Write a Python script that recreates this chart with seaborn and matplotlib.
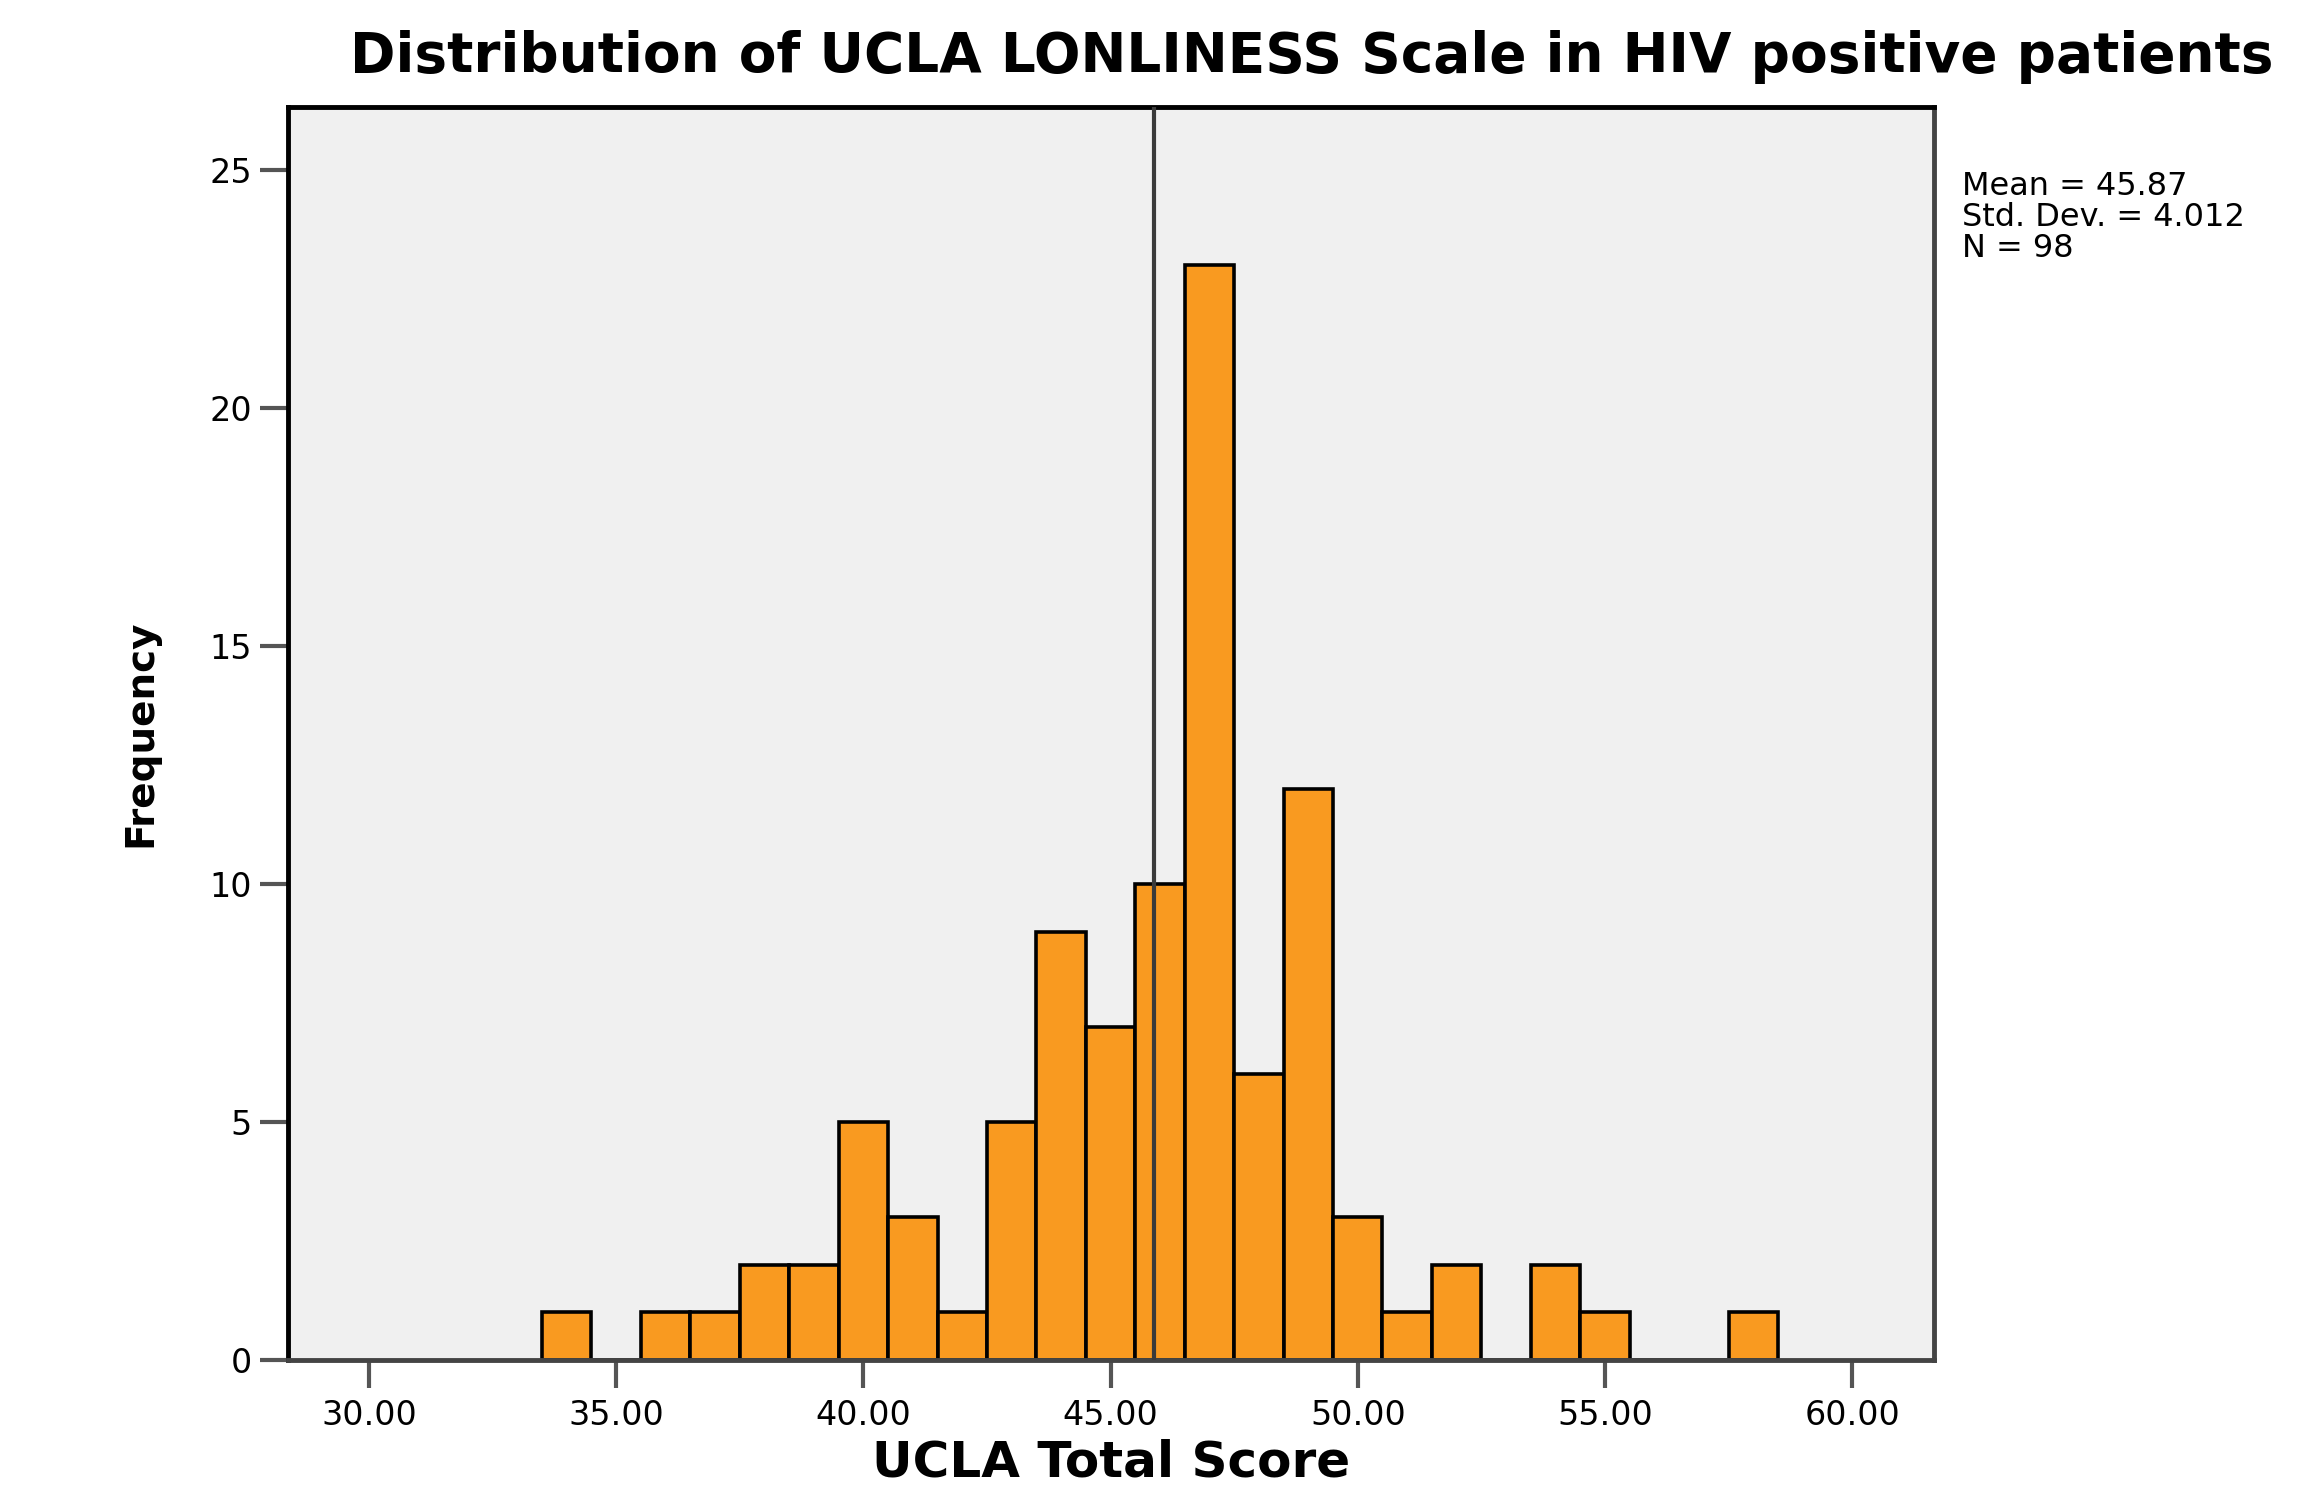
import numpy as np
import pandas as pd
import matplotlib
matplotlib.use("Agg")
import matplotlib.pyplot as plt
import seaborn as sns

# UCLA total scores (integer bins) and how many patients got each
scores = [34, 35, 36, 37, 38, 39, 40, 41, 42, 43, 44, 45, 46, 47, 48, 49,
          50, 51, 52, 53, 54, 55, 56, 57, 58]
counts = [1, 0, 1, 1, 2, 2, 5, 3, 1, 5, 9, 7, 10, 23, 6, 12,
          3, 1, 2, 0, 2, 1, 0, 0, 1]
x_ticks = [30, 35, 40, 45, 50, 55, 60]
y_ticks = [0, 5, 10, 15, 20, 25]
mean_val = 45.87
sd_val = 4.012
n_val = 98

sns.set_style("white")
plt.rcParams["font.family"] = ["DejaVu Sans"]
plt.rcParams["text.color"] = "black"
plt.rcParams["axes.labelcolor"] = "black"
plt.rcParams["xtick.labelcolor"] = "black"
plt.rcParams["ytick.labelcolor"] = "black"

df = pd.DataFrame({"score": scores, "count": counts})

fig = plt.figure(figsize=(23.22, 14.91), dpi=100)
ax = fig.add_axes([0.124, 0.088, 0.709, 0.840])
ax.set_facecolor("#F0F0F0")

sns.histplot(data=df, x="score", weights="count", discrete=True, ax=ax,
             color="#F99A20", edgecolor="black", linewidth=2.6, alpha=1)

ax.axvline(mean_val, color="#3a3a3a", lw=3, zorder=5)

ax.set_xlim(28.36, 61.66)
ax.set_ylim(0, 26.32)
ax.set_xticks(x_ticks)
ax.set_xticklabels([f"{t:.2f}" for t in x_ticks])
ax.set_yticks(y_ticks)
ax.tick_params(axis="both", direction="out", length=20, width=3, color="#555555",
               labelsize=24, pad=6, bottom=True, left=True)
ax.tick_params(axis="x", pad=8)

for side in ["left", "top"]:
    ax.spines[side].set_color("black")
    ax.spines[side].set_linewidth(3.5)
for side in ["right", "bottom"]:
    ax.spines[side].set_color("#444444")
    ax.spines[side].set_linewidth(3.5)

ax.set_xlabel("UCLA Total Score", fontsize=36, fontweight="bold", labelpad=5)
ax.set_ylabel("Frequency", fontsize=28, fontweight="bold", labelpad=36)

fig.text(0.565, 0.962, "Distribution of UCLA LONLINESS Scale in HIV positive patients",
         ha="center", va="center", fontsize=39.5, fontweight="bold")

fig.text(0.845, 0.885,
         f"Mean = {mean_val}\nStd. Dev. = {sd_val}\nN = {n_val}",
         ha="left", va="top", fontsize=23, linespacing=1.0)

fig.savefig("out.png", dpi=100)
